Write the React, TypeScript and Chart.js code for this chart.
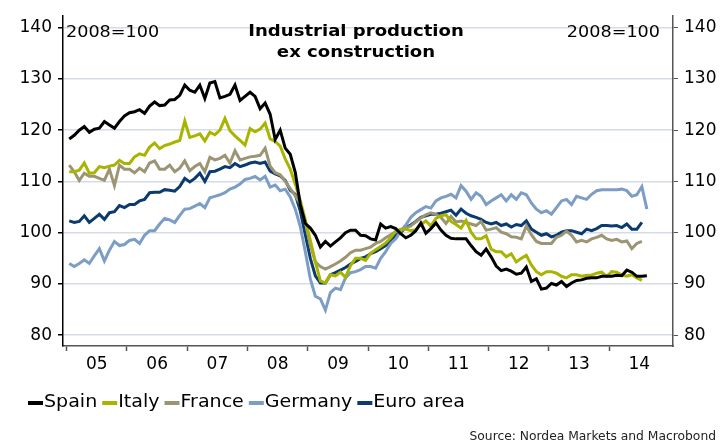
import React, { useEffect, useRef } from 'react';
import { Chart, registerables } from 'chart.js';

Chart.register(...registerables);

const yearLabels = ['05', '06', '07', '08', '09', '10', '11', '12', '13', '14'];
const yTickValues = [80, 90, 100, 110, 120, 130, 140];
const seriesNames = ['Spain', 'Italy', 'France', 'Germany', 'Euro area'];
const seriesColors = ['#000000', '#A9B400', '#9B9574', '#7C9DC4', '#0B3A6E'];
const titleLines = ['Industrial production', 'ex construction'];
const baseNote = '2008=100';
const sourceNote = 'Source: Nordea Markets and Macrobond';

// monthly values, Jan 2005 onwards
const spain = [
  118.3, 119.0, 120.0, 120.7, 119.6, 120.2, 120.4, 121.7, 121.0, 120.4,
  121.7, 122.8, 123.4, 123.6, 124.0, 123.3, 124.7, 125.5, 124.8, 124.9,
  125.9, 126.0, 126.8, 128.8, 127.8, 127.4, 128.8, 126.2, 129.2, 129.5,
  126.3, 126.6, 127.0, 128.8, 125.8, 126.6, 127.4, 126.6, 124.2, 125.3,
  123.1, 118.2, 120.0, 116.5, 115.3, 111.8, 105.5, 101.8, 100.9, 99.5,
  97.2, 98.3, 97.4, 98.2, 99.0, 100.0, 100.5, 100.5, 99.5, 99.4,
  98.8, 98.6, 101.7, 100.9, 101.2, 100.8, 99.8, 99.0, 99.5, 100.4,
  101.9, 99.9, 100.8, 101.9, 100.5, 99.5, 98.9, 98.8, 98.8, 98.8,
  97.5, 96.3, 95.6, 96.8, 95.3, 93.5, 92.6, 92.9, 92.5, 91.9,
  92.1, 93.3, 90.5, 91.0, 89.0, 89.2, 90.1, 89.8, 90.5, 89.5,
  90.2, 90.7, 90.8, 91.1, 91.2, 91.2, 91.5, 91.5, 91.5, 91.7,
  91.6, 92.7, 92.3, 91.5, 91.5, 91.6,
];

const italy = [
  111.9, 111.9, 112.2, 113.6, 111.6, 111.7, 112.9, 112.7, 113.0, 113.2,
  114.1, 113.5, 113.5, 114.8, 115.4, 115.1, 116.7, 117.5, 116.4, 117.0,
  117.3, 117.7, 118.0, 121.8, 118.6, 118.9, 119.3, 117.9, 119.6, 119.1,
  120.0, 122.3, 119.9, 118.9, 118.0, 117.1, 120.3, 119.7, 120.2, 121.4,
  118.3, 117.8, 116.9, 114.4, 112.4, 109.5, 106.3, 102.5, 98.5, 94.3,
  90.6, 90.2, 91.8, 91.6, 92.3, 91.3, 93.6, 95.0, 95.0, 94.6,
  96.0, 96.7, 97.3, 98.0, 99.0, 100.3, 100.7, 100.7, 100.4, 100.6,
  101.6, 102.3, 101.3, 102.8, 103.3, 103.5, 102.2, 101.6, 100.9, 102.4,
  100.1, 98.8, 98.8, 99.4, 96.8, 96.3, 96.3, 95.3, 95.9, 94.3,
  95.0, 95.6, 93.7, 92.4, 91.8, 92.4, 92.4, 92.1, 91.5, 91.2,
  91.8, 91.8, 91.5, 91.7, 91.7, 92.1, 92.3, 91.5, 92.4, 92.3,
  91.8, 91.5, 91.8, 91.2, 90.7,
];

const france = [
  113.2, 111.9, 110.2, 111.6, 111.0, 111.0, 110.6, 110.2, 112.4, 109.2,
  113.2, 112.4, 112.4, 111.7, 112.6, 111.9, 113.6, 114.0, 112.4, 112.4,
  113.2, 111.9, 112.6, 114.0, 112.1, 112.9, 113.5, 111.9, 114.7, 114.2,
  114.5, 115.1, 113.6, 116.0, 114.2, 114.5, 114.8, 114.9, 115.1, 116.5,
  113.0, 111.7, 111.3, 110.0, 108.6, 107.2, 105.6, 102.0, 97.6, 94.3,
  93.4, 92.9, 93.4, 93.9, 94.5, 95.2, 96.1, 96.6, 96.6, 96.9,
  97.2, 97.9, 98.3, 99.0, 99.6, 100.2, 100.6, 100.9, 101.3, 102.1,
  102.9, 103.5, 103.9, 103.6, 103.0, 101.8, 103.2, 102.1, 102.3, 102.0,
  101.7, 101.4, 102.2, 100.5, 100.7, 101.0, 100.1, 99.8, 99.2, 99.1,
  98.8, 101.3, 99.6, 98.3, 97.9, 97.9, 97.9, 99.1, 99.5, 100.3,
  99.5, 98.2, 98.5, 98.2, 98.8, 99.1, 99.5, 98.8, 98.5, 98.7,
  98.2, 98.4, 96.9, 97.9, 98.3,
];

const germany = [
  94.0, 93.4, 94.0, 94.7, 94.0, 95.5, 96.9, 94.5, 96.6, 98.3,
  97.5, 97.7, 98.5, 98.7, 97.9, 99.5, 100.4, 100.4, 101.7, 102.8,
  102.5, 102.0, 103.4, 104.6, 104.7, 105.2, 105.7, 104.9, 106.8, 107.1,
  107.4, 107.8, 108.5, 108.9, 109.5, 110.4, 110.6, 111.0, 110.3, 111.0,
  108.9, 109.3, 108.2, 108.5, 107.0, 104.6, 101.2, 96.3, 91.0, 87.6,
  87.1, 84.9, 88.3, 89.2, 88.9, 91.2, 92.2, 92.4, 92.8, 93.4,
  93.4, 93.1, 95.0, 96.3, 97.9, 98.8, 100.3, 101.5, 103.0, 103.9,
  104.5, 105.1, 104.8, 106.2, 106.8, 107.1, 107.5, 106.8, 109.2, 108.1,
  106.5, 107.8, 107.1, 105.5, 106.2, 106.8, 107.4, 106.2, 107.4, 106.5,
  107.8, 107.4, 105.8, 104.6, 103.9, 104.3, 103.6, 104.9, 106.2, 106.5,
  105.5, 107.1, 106.8, 106.5, 107.5, 108.2, 108.4, 108.4, 108.4, 108.4,
  108.5, 108.2, 107.1, 107.4, 109.0, 104.6,
];

const euroArea = [
  102.3, 102.0, 102.2, 103.3, 102.0, 102.8, 103.6, 102.6, 103.9, 104.1,
  105.3, 104.9, 105.5, 105.5, 106.2, 106.5, 107.8, 107.9, 107.9, 108.4,
  108.3, 108.1, 109.0, 110.6, 109.9, 110.6, 111.6, 110.0, 111.9, 112.0,
  112.4, 112.9, 112.7, 113.5, 112.9, 113.2, 113.6, 113.8, 113.5, 113.8,
  112.0, 111.5, 111.1, 110.2, 108.3, 107.5, 104.2, 99.6, 95.0, 91.6,
  90.2, 90.2, 91.8, 92.2, 92.7, 93.2, 93.9, 94.4, 95.0, 95.3,
  95.9, 96.3, 96.9, 97.5, 98.5, 99.5, 100.1, 101.0, 101.5, 102.2,
  103.0, 103.3, 103.6, 103.6, 103.8, 104.1, 104.4, 103.4, 104.6, 103.8,
  103.3, 103.0, 102.6, 102.0, 101.7, 102.0, 101.4, 101.7, 101.1, 101.6,
  101.4, 102.3, 100.7, 100.1, 99.5, 99.8, 99.2, 99.5, 100.1, 100.4,
  100.4, 100.1, 99.8, 100.7, 100.4, 100.8, 101.4, 101.4, 101.3, 101.4,
  101.0, 101.7, 100.7, 100.7, 102.0,
];

const seriesValues = [spain, italy, france, germany, euroArea];

const FONT = '"DejaVu Sans", Verdana, sans-serif';

function drawText(
  ctx: CanvasRenderingContext2D,
  text: string,
  x: number,
  y: number,
  align: CanvasTextAlign,
  sx: number
) {
  ctx.save();
  ctx.translate(x, y);
  ctx.scale(sx, 1);
  ctx.textAlign = align;
  ctx.fillText(text, 0, 0);
  ctx.restore();
}

const overlayPlugin = {
  id: 'overlayTexts',
  afterDraw(chart: any) {
    const ctx = chart.ctx as CanvasRenderingContext2D;
    ctx.save();
    ctx.fillStyle = '#000';
    ctx.textBaseline = 'middle';
    // title
    ctx.font = `bold 16px ${FONT}`;
    drawText(ctx, titleLines[0], 356, 32, 'center', 1.13);
    drawText(ctx, titleLines[1], 356, 53, 'center', 1.13);
    // base notes
    ctx.font = `16px ${FONT}`;
    drawText(ctx, baseNote, 66, 33, 'left', 1.1);
    drawText(ctx, baseNote, 660, 33, 'right', 1.1);
    // legend
    ctx.font = `17px ${FONT}`;
    const sx = 1.12;
    let x = 28;
    const ly = 403;
    seriesNames.forEach((name, i) => {
      ctx.fillStyle = seriesColors[i];
      ctx.fillRect(x, ly - 2, 15, 4);
      ctx.fillStyle = '#000';
      drawText(ctx, name, x + 16, ly, 'left', sx);
      x += 16 + ctx.measureText(name).width * sx + 5;
    });
    // source
    ctx.font = `12px ${FONT}`;
    ctx.fillStyle = '#222';
    drawText(ctx, sourceNote, 716, 437, 'right', 1.025);
    ctx.restore();
  },
};

export default function App() {
  const canvasRef = useRef<HTMLCanvasElement | null>(null);

  useEffect(() => {
    if (!canvasRef.current) return;
    const datasets = seriesNames.map((name, k) => ({
      label: name,
      data: seriesValues[k].map((v, i) => ({ x: i + 0.5, y: v })),
      borderColor: seriesColors[k],
      backgroundColor: seriesColors[k],
      borderWidth: 3,
      pointRadius: 0,
      tension: 0,
      fill: false,
      yAxisID: 'y',
    }));

    const tickFont = { family: FONT, size: 17 };

    const chart = new Chart(canvasRef.current, {
      type: 'line',
      data: { datasets },
      plugins: [overlayPlugin],
      options: {
        animation: false,
        responsive: true,
        maintainAspectRatio: false,
        layout: { padding: { top: 10, left: 0, right: 0, bottom: 0 } },
        plugins: {
          legend: { display: false },
          tooltip: { enabled: false },
          title: { display: false },
        },
        scales: {
          x: {
            type: 'linear',
            min: -0.74,
            max: 120.7,
            afterBuildTicks(scale: any) {
              const t: any[] = [];
              for (let v = 0; v <= 114; v += 6) t.push({ value: v });
              scale.ticks = t;
            },
            afterFit(scale: any) {
              scale.height = 96;
            },
            ticks: {
              autoSkip: false,
              maxRotation: 0,
              padding: 3,
              color: '#000',
              font: tickFont,
              callback: (v: any) => {
                const n = Number(v);
                return n % 12 === 6 ? yearLabels[Math.floor(n / 12)] : '';
              },
            },
            grid: {
              drawOnChartArea: false,
              drawTicks: true,
              tickLength: 5,
              tickColor: (c: any) =>
                c.tick && c.tick.value % 12 === 0 ? '#555' : 'rgba(0,0,0,0)',
              tickWidth: 1.5,
            },
            border: { display: true, color: '#555', width: 1.5 },
          },
          y: {
            position: 'left',
            min: 77.9,
            max: 142.24,
            afterBuildTicks(scale: any) {
              scale.ticks = yTickValues.map((v) => ({ value: v }));
            },
            afterFit(scale: any) {
              scale.width = 63;
            },
            ticks: { padding: 6, color: '#000', font: tickFont },
            grid: {
              color: '#D5DCE4',
              lineWidth: 1.5,
              tickColor: '#000',
              tickLength: 5,
            },
            border: { display: true, color: '#000', width: 1.5 },
          },
          y2: {
            position: 'right',
            min: 77.9,
            max: 142.24,
            afterBuildTicks(scale: any) {
              scale.ticks = yTickValues.map((v) => ({ value: v }));
            },
            afterFit(scale: any) {
              scale.width = 47;
            },
            ticks: { padding: 6, color: '#000', font: tickFont },
            grid: {
              drawOnChartArea: false,
              tickColor: '#555',
              tickLength: 5,
            },
            border: { display: true, color: '#555', width: 1.5 },
          },
        },
      },
    } as any);
    return () => chart.destroy();
  }, []);

  return (
    <div style={{ position: 'absolute', left: 0, top: 0, width: 720, height: 442, background: '#fff' }}>
      <canvas ref={canvasRef} />
    </div>
  );
}
